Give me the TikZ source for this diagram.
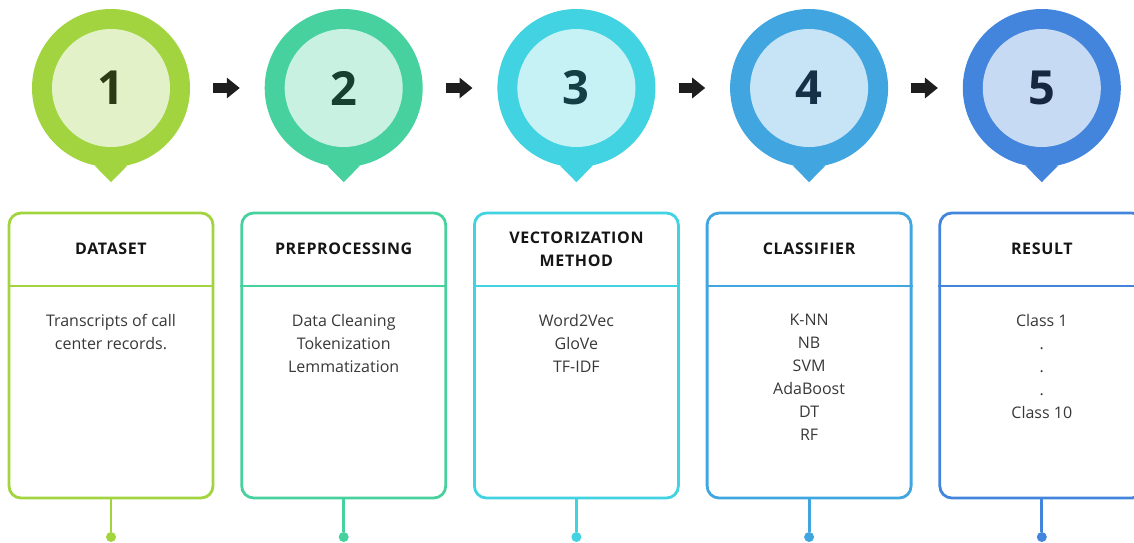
\documentclass[tikz,border=0pt]{standalone}
\usepackage{fontspec}
\setmainfont{Open Sans}
\usetikzlibrary{positioning, arrows.meta}

\definecolor{limeout}{HTML}{A2D43F}
\definecolor{limein}{HTML}{E2F1C8}
\definecolor{limeink}{HTML}{2D3B15}
\definecolor{mintout}{HTML}{47D19F}
\definecolor{mintin}{HTML}{C9F1E2}
\definecolor{mintink}{HTML}{163F2E}
\definecolor{cyanout}{HTML}{41D3E1}
\definecolor{cyanin}{HTML}{C6F1F5}
\definecolor{cyanink}{HTML}{153F45}
\definecolor{skyout}{HTML}{41A6E0}
\definecolor{skyin}{HTML}{C7E3F6}
\definecolor{skyink}{HTML}{163047}
\definecolor{blueout}{HTML}{4385DD}
\definecolor{bluein}{HTML}{C6DAF3}
\definecolor{blueink}{HTML}{162840}
\definecolor{headink}{HTML}{151515}
\definecolor{bodyink}{HTML}{383838}
\definecolor{arrowink}{HTML}{1E1E1E}

\newcommand\headfont{\fontsize{16}{23}\selectfont\bfseries\addfontfeature{LetterSpace=4}}

\tikzset{
    pin/.style={circle, minimum size=158pt, inner sep=0pt},
    core/.style={circle, minimum size=118pt, inner sep=0pt, font=\fontsize{47}{47}\selectfont\bfseries},
    card/.style={draw, line width=2.8pt, rounded corners=12pt, minimum width=204pt, minimum height=285pt, inner sep=0pt},
    head/.style={minimum height=74pt, text width=200pt, align=center, inner sep=0pt, font=\headfont, text=headink},
    body/.style={align=center, inner sep=0pt, font=\fontsize{16}{23}\selectfont, text=bodyink},
    dot/.style={circle, minimum size=10pt, inner sep=0pt},
    stem/.style={line width=2.8pt},
    flow/.style={line width=10pt, draw=arrowink, -{Triangle[length=13pt, width=20pt]}, shorten <=23pt, shorten >=24.7pt},
}

\begin{document}
\begin{tikzpicture}[x=1pt, y=-1pt]
    \useasboundingbox (0, 0) rectangle (1134, 542);

    \node[pin, fill=limeout] at (111, 88) (p1) {};
    \node[pin, fill=mintout] at (343.7, 88) (p2) {};
    \node[pin, fill=cyanout] at (576.4, 88) (p3) {};
    \node[pin, fill=skyout] at (809.1, 88) (p4) {};
    \node[pin, fill=blueout] at (1041.8, 88) (p5) {};

    \coordinate[below=15pt of p1.south] (t1);
    \coordinate[below=15pt of p2.south] (t2);
    \coordinate[below=15pt of p3.south] (t3);
    \coordinate[below=15pt of p4.south] (t4);
    \coordinate[below=15pt of p5.south] (t5);
    \fill[limeout] (p1.-102) -- (t1) -- (p1.-78) -- cycle;
    \fill[mintout] (p2.-102) -- (t2) -- (p2.-78) -- cycle;
    \fill[cyanout] (p3.-102) -- (t3) -- (p3.-78) -- cycle;
    \fill[skyout] (p4.-102) -- (t4) -- (p4.-78) -- cycle;
    \fill[blueout] (p5.-102) -- (t5) -- (p5.-78) -- cycle;

    \node[core, fill=limein, text=limeink] at (p1) (n1) {1};
    \node[core, fill=mintin, text=mintink] at (p2) (n2) {2};
    \node[core, fill=cyanin, text=cyanink] at (p3) (n3) {3};
    \node[core, fill=skyin, text=skyink] at (p4) (n4) {4};
    \node[core, fill=bluein, text=blueink] at (p5) (n5) {5};

    \draw[flow] (p1) -- (p2);
    \draw[flow] (p2) -- (p3);
    \draw[flow] (p3) -- (p4);
    \draw[flow] (p4) -- (p5);

    \node[card, draw=limeout] at (111, 355.5) (b1) {};
    \node[card, draw=mintout] at (343.7, 355.5) (b2) {};
    \node[card, draw=cyanout] at (576.4, 355.5) (b3) {};
    \node[card, draw=skyout] at (809.1, 355.5) (b4) {};
    \node[card, draw=blueout] at (1041.8, 355.5) (b5) {};

    \node[head, below=0pt of b1.north] (h1) {DATASET};
    \node[head, below=0pt of b2.north] (h2) {PREPROCESSING};
    \node[head, below=0pt of b3.north] (h3) {VECTORIZATION\\METHOD};
    \node[head, below=0pt of b4.north] (h4) {CLASSIFIER};
    \node[head, below=0pt of b5.north] (h5) {RESULT};

    \draw[stem, limeout] (h1.south -| b1.west) -- (h1.south -| b1.east);
    \draw[stem, mintout] (h2.south -| b2.west) -- (h2.south -| b2.east);
    \draw[stem, cyanout] (h3.south -| b3.west) -- (h3.south -| b3.east);
    \draw[stem, skyout] (h4.south -| b4.west) -- (h4.south -| b4.east);
    \draw[stem, blueout] (h5.south -| b5.west) -- (h5.south -| b5.east);

    \node[body, below=28pt of h1] (l1) {Transcripts of call\\center records.};
    \node[body, below=28pt of h2] (l2) {Data Cleaning\\Tokenization\\Lemmatization};
    \node[body, below=28pt of h3] (l3) {Word2Vec\\GloVe\\TF-IDF};
    \node[body, below=28pt of h4] (l4) {K-NN\\NB\\SVM\\AdaBoost\\DT\\RF};
    \node[body, below=28pt of h5] (l5) {Class 1\\.\\.\\.\\Class 10};

    \node[dot, fill=limeout] at (111, 537) (d1) {};
    \node[dot, fill=mintout] at (343.7, 537) (d2) {};
    \node[dot, fill=cyanout] at (576.4, 537) (d3) {};
    \node[dot, fill=skyout] at (809.1, 537) (d4) {};
    \node[dot, fill=blueout] at (1041.8, 537) (d5) {};

    \draw[stem, limeout] (b1) -- (d1);
    \draw[stem, mintout] (b2) -- (d2);
    \draw[stem, cyanout] (b3) -- (d3);
    \draw[stem, skyout] (b4) -- (d4);
    \draw[stem, blueout] (b5) -- (d5);
\end{tikzpicture}
\end{document}
